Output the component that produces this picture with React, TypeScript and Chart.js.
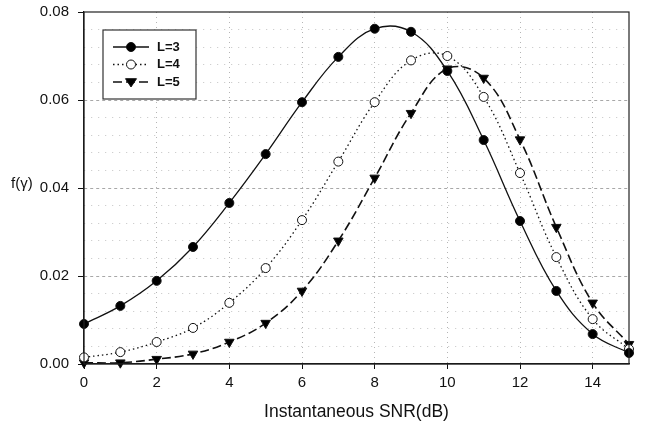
import React, { useEffect, useRef } from "react";
import { Chart, registerables } from "chart.js";

Chart.register(...registerables);

const xValues = [0, 1, 2, 3, 4, 5, 6, 7, 8, 9, 10, 11, 12, 13, 14, 15];
const seriesL3 = [0.0091, 0.0132, 0.0189, 0.0266, 0.0366, 0.0477, 0.0595, 0.0698, 0.0762, 0.0755, 0.0666, 0.0509, 0.0325, 0.0166, 0.0068, 0.0025];
const seriesL4 = [0.0015, 0.0027, 0.005, 0.0082, 0.0139, 0.0218, 0.0327, 0.046, 0.0595, 0.069, 0.070, 0.0607, 0.0434, 0.0243, 0.0102, 0.0034];
const seriesL5 = [0.0003, 0.0003, 0.0011, 0.0023, 0.005, 0.0093, 0.0166, 0.028, 0.0423, 0.057, 0.0671, 0.065, 0.051, 0.0311, 0.0139, 0.0045];
const xTickValues = [0, 2, 4, 6, 8, 10, 12, 14];
const seriesNames = ["L=3", "L=4", "L=5"];
const xTitle = "Instantaneous SNR(dB)";
const yTitle = "f(\u03b3)";

const FONT = "'Liberation Sans', Arial, sans-serif";

const isMajorY = (v: number) => Math.abs(v / 0.02 - Math.round(v / 0.02)) < 1e-6;

export default function App() {
  const ref = useRef<HTMLCanvasElement | null>(null);
  useEffect(() => {
    if (!ref.current) return;
    const styles = [
      { dash: [], fill: "#000", pointStyle: "circle", rot: 0, radius: 4.5, width: 1.3 },
      { dash: [1.5, 3], fill: "#fff", pointStyle: "circle", rot: 0, radius: 4.5, width: 1.3 },
      { dash: [9, 4], fill: "#000", pointStyle: "triangle", rot: 180, radius: 5.5, width: 1.6 },
    ];
    const all = [seriesL3, seriesL4, seriesL5];
    const framePlugin = {
      id: "frame",
      afterDraw(chart: any) {
        const { ctx, chartArea } = chart;
        const { left, right, top, bottom } = chartArea;
        ctx.save();
        ctx.strokeStyle = "#222";
        ctx.lineWidth = 1.2;
        ctx.setLineDash([]);
        ctx.strokeRect(left, top, right - left, bottom - top);
        // y title
        ctx.fillStyle = "#111";
        ctx.font = `15px ${FONT}`;
        ctx.textAlign = "left";
        ctx.textBaseline = "middle";
        ctx.fillText(yTitle, 11, 184);
        // legend
        const lx = 103, ly = 30, lw = 93, lh = 69;
        ctx.fillStyle = "#fff";
        ctx.fillRect(lx, ly, lw, lh);
        ctx.strokeStyle = "#333";
        ctx.lineWidth = 1.2;
        ctx.strokeRect(lx, ly, lw, lh);
        for (let i = 0; i < 3; i++) {
          const yy = ly + 17 + i * 17.5;
          const s = styles[i];
          ctx.beginPath();
          ctx.strokeStyle = "#111";
          ctx.lineWidth = s.width;
          ctx.setLineDash(s.dash);
          ctx.moveTo(lx + 10, yy);
          ctx.lineTo(lx + 46, yy);
          ctx.stroke();
          ctx.setLineDash([]);
          ctx.lineWidth = 1;
          ctx.fillStyle = s.fill;
          ctx.strokeStyle = "#111";
          ctx.beginPath();
          if (s.pointStyle === "circle") {
            ctx.arc(lx + 28, yy, 4.5, 0, Math.PI * 2);
          } else {
            const r = 5.5;
            ctx.moveTo(lx + 28 - r, yy - r * 0.6);
            ctx.lineTo(lx + 28 + r, yy - r * 0.6);
            ctx.lineTo(lx + 28, yy + r * 0.9);
            ctx.closePath();
          }
          ctx.fill();
          ctx.stroke();
          ctx.fillStyle = "#111";
          ctx.font = `bold 13px ${FONT}`;
          ctx.textAlign = "left";
          ctx.textBaseline = "middle";
          ctx.fillText(seriesNames[i], lx + 54, yy);
        }
        ctx.restore();
      },
    };
    const chart = new Chart(ref.current, {
      type: "line",
      data: {
        labels: xValues,
        datasets: all.map((d, i) => ({
          label: seriesNames[i],
          data: xValues.map((x, j) => ({ x, y: d[j] })),
          borderColor: "#111",
          borderWidth: styles[i].width,
          borderDash: styles[i].dash,
          backgroundColor: styles[i].fill,
          pointBackgroundColor: styles[i].fill,
          pointBorderColor: "#111",
          pointBorderWidth: 1,
          pointStyle: styles[i].pointStyle as any,
          pointRotation: styles[i].rot,
          pointRadius: styles[i].radius,
          tension: 0.4,
          fill: false,
          clip: false as any,
        })),
      },
      options: {
        responsive: false,
        animation: false,
        layout: { padding: { top: 12, right: 17, left: 0, bottom: 0 } },
        plugins: { legend: { display: false }, tooltip: { enabled: false } },
        scales: {
          x: {
            type: "linear",
            min: 0,
            max: 15,
            afterBuildTicks: (scale: any) => {
              scale.ticks = xTickValues.map((v) => ({ value: v }));
            },
            afterFit: (scale: any) => {
              scale.height = 64;
            },
            ticks: {
              color: "#111",
              font: { family: FONT, size: 15 },
              padding: 5,
              maxRotation: 0,
              autoSkip: false,
            },
            grid: {
              color: (c: any) => (c.tick && c.tick.value === 0 ? "rgba(0,0,0,0)" : "#b5b5b5"),
              lineWidth: 1,
              tickColor: "#111",
              tickLength: 5,
              drawOnChartArea: true,
            },
            border: { display: true, color: "#111", width: 1.2, dash: [1, 4] },
            title: {
              display: true,
              text: xTitle,
              color: "#111",
              font: { family: FONT, size: 17.5 },
              padding: { top: 0, bottom: 5 },
            },
          },
          y: {
            type: "linear",
            min: 0,
            max: 0.08,
            afterBuildTicks: (scale: any) => {
              const t = [];
              for (let i = 0; i <= 20; i++) t.push({ value: +(i * 0.004).toFixed(3) });
              scale.ticks = t;
            },
            afterFit: (scale: any) => {
              scale.width = 84;
              scale.paddingTop = 0;
              scale.paddingBottom = 0;
            },
            ticks: {
              color: "#111",
              font: { family: FONT, size: 15 },
              padding: 9,
              autoSkip: false,
              callback: (v: any) => (isMajorY(v) ? Number(v).toFixed(2) : ""),
            },
            grid: {
              color: (c: any) => {
                const v = c.tick ? c.tick.value : 0;
                if (v === 0 || Math.abs(v - 0.08) < 1e-9) return "rgba(0,0,0,0)";
                return isMajorY(v) ? "#a8a8a8" : "#c4c4c4";
              },
              lineWidth: 1,
              tickColor: (c: any) => (c.tick && isMajorY(c.tick.value) ? "#111" : "rgba(0,0,0,0)"),
              tickLength: 6,
            },
            border: {
              display: true,
              color: "#111",
              width: 1.2,
              dash: (c: any) => (c.tick && isMajorY(c.tick.value) ? [3, 3] : [1, 6]),
            } as any,
          },
        },
      },
      plugins: [framePlugin],
    } as any);
    return () => chart.destroy();
  }, []);
  return (
    <div style={{ position: "fixed", left: 0, top: 0, width: 646, height: 428, background: "#fff" }}>
      <canvas ref={ref} width={646} height={428} style={{ width: 646, height: 428, display: "block" }} />
    </div>
  );
}
